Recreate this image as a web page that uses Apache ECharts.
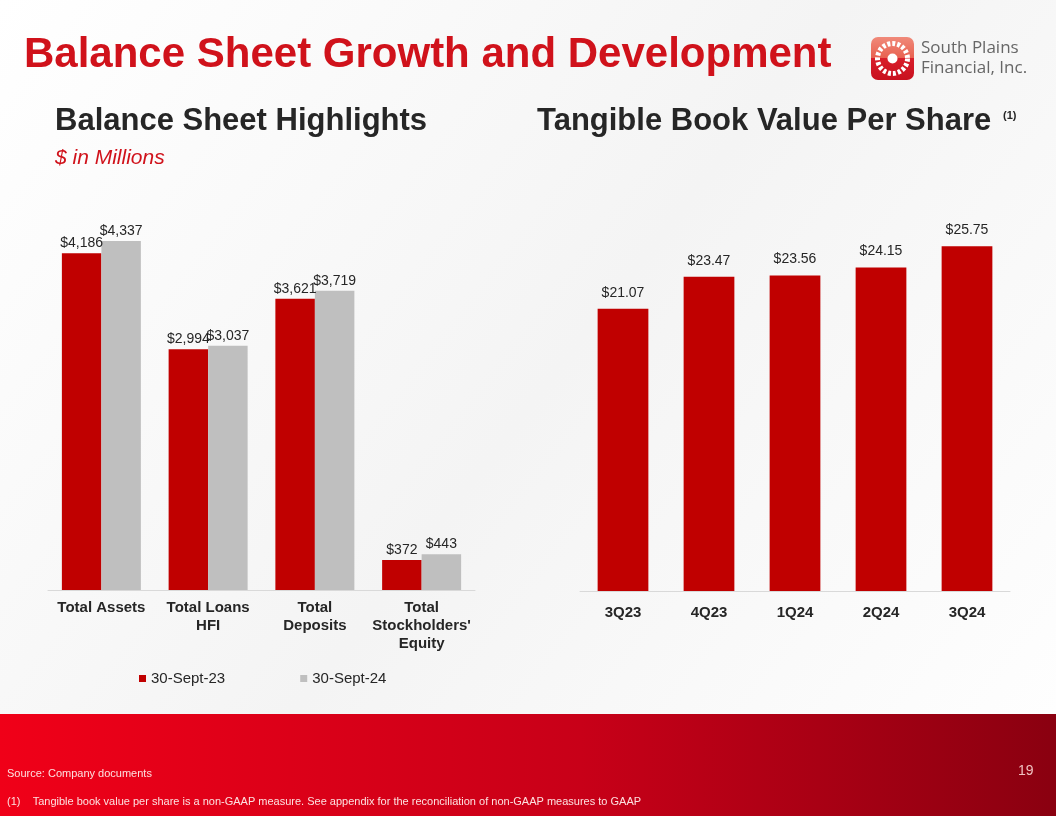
<!DOCTYPE html>
<html><head><meta charset="utf-8">
<script src="https://cdn.jsdelivr.net/npm/echarts@6/dist/echarts.min.js"></script>
<style>html,body{margin:0;padding:0;}#main{width:1056px;height:816px;}</style>
</head><body><div id="main"></div>
<script>
var myChart = echarts.init(document.getElementById('main'));

// 资产负债表数据
var bsCategories = ['Total Assets', 'Total Loans\nHFI', 'Total\nDeposits', "Total\nStockholders'\nEquity"];
var sept23 = [4186, 2994, 3621, 372];
var sept24 = [4337, 3037, 3719, 443];

// 每股有形账面价值
var tbvCategories = ['3Q23', '4Q23', '1Q24', '2Q24', '3Q24'];
var tbvValues = [21.07, 23.47, 23.56, 24.15, 25.75];

var RED = '#c00000', GRAY = '#bfbfbf';
var F = '"Liberation Sans", Arial, sans-serif';

function dollar(v) { return '$' + v.toLocaleString('en-US'); }

option = {
    backgroundColor: {
        type: 'linear', x: 0, y: 0, x2: 1, y2: 1,
        colorStops: [{offset: 0, color: '#ffffff'}, {offset: 0.5, color: '#f4f4f4'}, {offset: 1, color: '#ffffff'}]
    },
    textStyle: {fontFamily: F},
    graphic: [
        {type: 'rect', shape: {x: 0, y: 714, width: 1056, height: 102}, z: -1,
         style: {fill: {type: 'linear', x: 0, y: 0, x2: 1, y2: 0,
            colorStops: [{offset: 0, color: '#f00018'}, {offset: 0.55, color: '#c80018'}, {offset: 1, color: '#8a0010'}]}}},
        {type: 'text', left: 24, top: 34, style: {text: 'Balance Sheet Growth and Development', fill: '#d0121b', font: 'bold 42px ' + F}},
        {type: 'text', left: 55, top: 106, style: {text: 'Balance Sheet Highlights', fill: '#262626', font: 'bold 31px ' + F}},
        {type: 'text', left: 55, top: 148, style: {text: '$ in Millions', fill: '#d0121b', font: 'italic 21px ' + F}},
        {type: 'text', left: 537, top: 106, style: {text: 'Tangible Book Value Per Share', fill: '#262626', font: 'bold 31px ' + F}},
        {type: 'text', left: 1003, top: 110, style: {text: '(1)', fill: '#262626', font: 'bold 11px ' + F}},
        // logo
        {type: 'rect', shape: {x: 871, y: 37, width: 43, height: 43, r: 7},
         style: {fill: {type: 'linear', x: 0, y: 0, x2: 0, y2: 1,
            colorStops: [{offset: 0, color: '#f08a7a'}, {offset: 0.5, color: '#e8604f'}, {offset: 0.5, color: '#d81e2a'}, {offset: 1, color: '#c8101e'}]}}},
        {type: 'circle', shape: {cx: 892.5, cy: 58.5, r: 15}, style: {fill: 'none', stroke: '#fff', lineWidth: 5, lineDash: [3, 2]}},
        {type: 'circle', shape: {cx: 892.5, cy: 58.5, r: 5}, style: {fill: '#fff'}},
        {type: 'text', left: 921, top: 38, style: {text: 'South Plains\nFinancial, Inc.', fill: '#666', font: '17px "Open Sans", sans-serif', lineHeight: 20}},
        // footer
        {type: 'text', left: 7, top: 768, style: {text: 'Source: Company documents', fill: '#fde0e0', font: '11px ' + F}},
        {type: 'text', left: 7, top: 796, style: {text: '(1)    Tangible book value per share is a non-GAAP measure. See appendix for the reconciliation of non-GAAP measures to GAAP', fill: '#fde0e0', font: '11px ' + F}},
        {type: 'text', left: 1018, top: 764, style: {text: '19', fill: '#f0c0c0', font: '14px ' + F}}
    ],
    legend: {
        data: ['30-Sept-23', '30-Sept-24'],
        left: 134, top: 666, itemWidth: 7, itemHeight: 7, itemGap: 75,
        icon: 'rect', textStyle: {fontSize: 15, color: '#262626', fontFamily: F}
    },
    grid: [
        {left: 48, width: 427, top: 228, bottom: 226},
        {left: 580, width: 430, top: 216, bottom: 225}
    ],
    xAxis: [
        {type: 'category', gridIndex: 0, data: bsCategories,
         axisTick: {show: false}, axisLine: {lineStyle: {color: '#d9d9d9'}},
         axisLabel: {interval: 0, color: '#262626', fontWeight: 'bold', fontSize: 15, lineHeight: 18, margin: 9}},
        {type: 'category', gridIndex: 1, data: tbvCategories,
         axisTick: {show: false}, axisLine: {lineStyle: {color: '#d9d9d9'}},
         axisLabel: {color: '#262626', fontWeight: 'bold', fontSize: 15, margin: 14}}
    ],
    yAxis: [
        {type: 'value', gridIndex: 0, min: 0, max: 4500, show: false},
        {type: 'value', gridIndex: 1, min: 0, max: 28, show: false}
    ],
    series: [
        {name: '30-Sept-23', type: 'bar', xAxisIndex: 0, yAxisIndex: 0, data: sept23,
         barWidth: '37%', barGap: '0%', itemStyle: {color: RED},
         label: {show: true, position: 'top', distance: 3, color: '#262626', fontSize: 14, formatter: function (p) { return dollar(p.value); }}},
        {name: '30-Sept-24', type: 'bar', xAxisIndex: 0, yAxisIndex: 0, data: sept24,
         barWidth: '37%', itemStyle: {color: GRAY},
         label: {show: true, position: 'top', distance: 3, color: '#262626', fontSize: 14, formatter: function (p) { return dollar(p.value); }}},
        {name: 'TBV', type: 'bar', xAxisIndex: 1, yAxisIndex: 1, data: tbvValues,
         barWidth: '59%', itemStyle: {color: RED},
         label: {show: true, position: 'top', distance: 9, color: '#262626', fontSize: 14, formatter: function (p) { return '$' + p.value.toFixed(2); }}}
    ]
};

myChart.setOption(option);
</script>
</body></html>
